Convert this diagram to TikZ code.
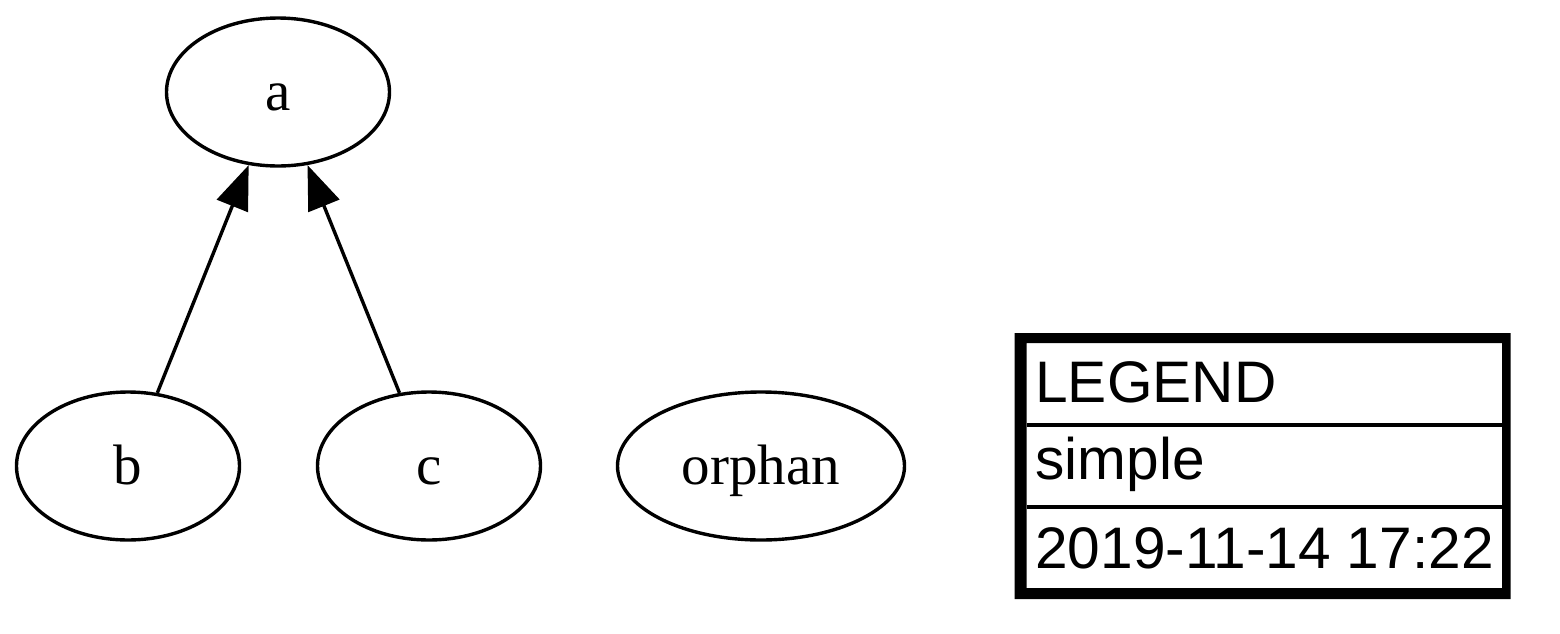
\documentclass[tikz,border=0pt]{standalone}
\usepackage{fontspec}
\setmainfont{Liberation Serif}
\newfontfamily\legendfont{Liberation Sans}
\usetikzlibrary{shapes.geometric,arrows.meta}
\tikzset{
  gnode/.style={ellipse, draw, line width=1.7pt, minimum width=111.5pt, minimum height=74pt,
    inner sep=0pt, text height=20pt, text depth=2pt,
    font=\fontsize{28.5pt}{34pt}\selectfont},
  gedge/.style={line width=1.7pt, -{Triangle[length=22pt,width=16.5pt]}},
  legtext/.style={anchor=base west, inner sep=0pt, font=\legendfont\fontsize{29.3pt}{35pt}\selectfont},
}
\begin{document}
\begin{tikzpicture}[x=0.5pt,y=-0.5pt]
\useasboundingbox (0,0) rectangle (1560,633);
\node[gnode] (a) at (278,92) {a};
\node[gnode] (b) at (128,466) {b};
\node[gnode] (c) at (429,466) {c};
\node[gnode, minimum width=143.5pt] (orphan) at (761,466) {orphan};
\draw[gedge] (b) -- (a);
\draw[gedge] (c) -- (a);
% legend table
\fill[even odd rule] (1014.5,333) rectangle (1510.5,599) (1026.5,343) rectangle (1502,588);
\draw[line width=2pt] (1026.5,424.5) -- (1502,424.5);
\draw[line width=2pt] (1026.5,507) -- (1502,507);
\node[legtext] (legend) at (1035,402) {LEGEND};
\node[legtext] (simple) at (1035,479) {simple};
\node[legtext] (date) at (1035,568) {2019-11-14 17:22};
\end{tikzpicture}
\end{document}
